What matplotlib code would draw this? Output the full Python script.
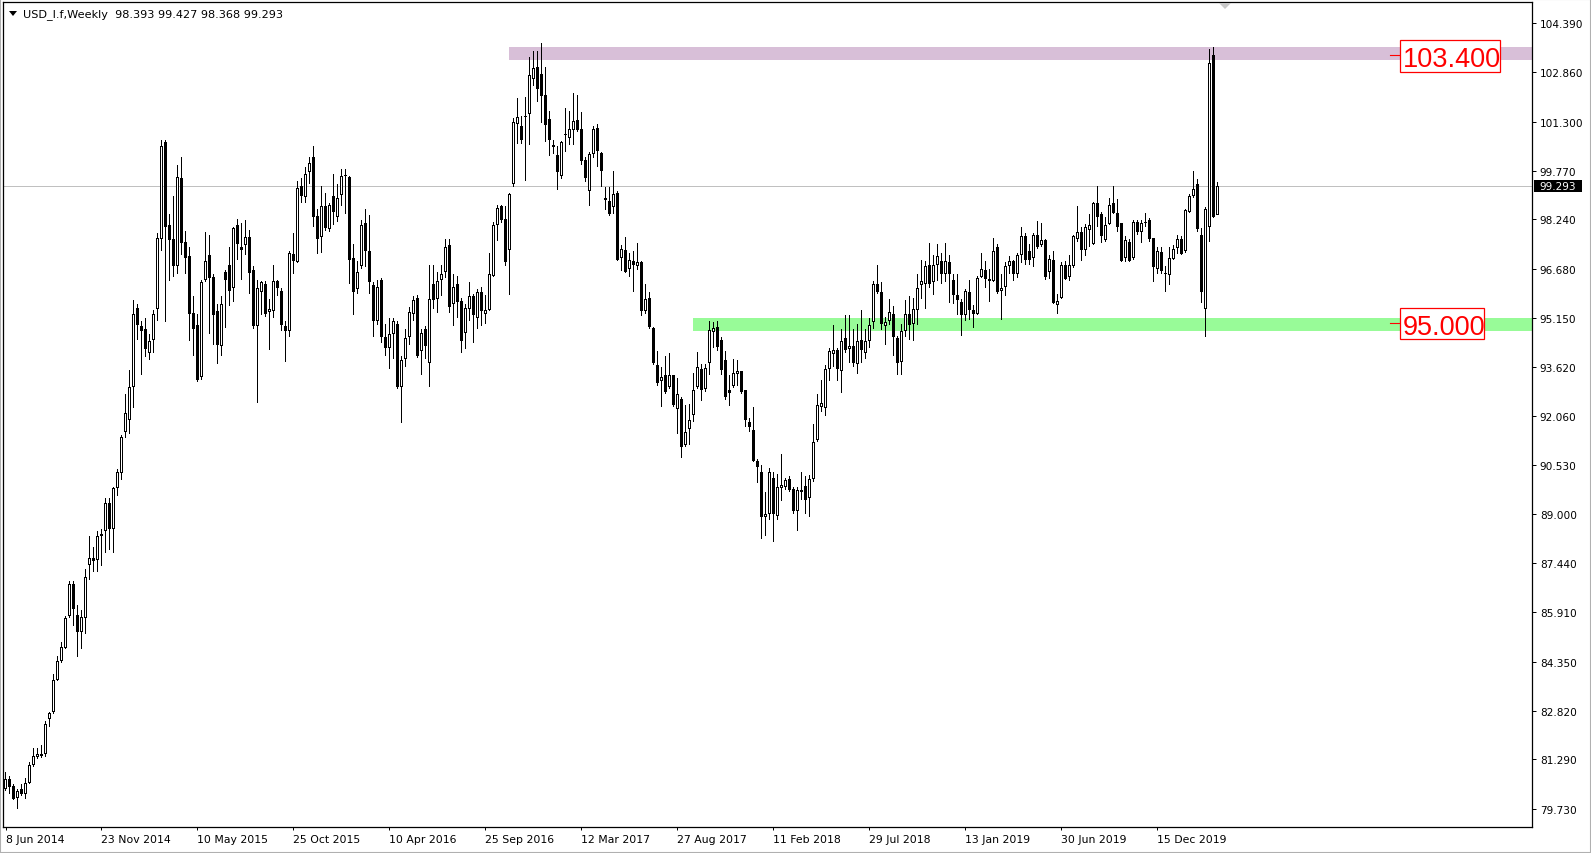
import matplotlib
matplotlib.use("Agg")
import matplotlib.pyplot as plt
from matplotlib.patches import Rectangle, Polygon
import numpy as np

# weekly candles, USD_I.f, starting 8 Jun 2014
opens = [
    80.37, 80.68, 80.45, 80.08, 80.37, 80.20, 80.56, 81.11, 81.36, 81.45,
    81.45, 82.56, 82.77, 83.79, 84.36, 84.79, 85.78, 86.79, 85.81, 85.30,
    85.73, 87.39, 87.61, 87.56, 88.30, 88.47, 89.32, 88.52, 89.80, 90.27,
    91.58, 91.94, 92.97, 95.45, 94.89, 94.80, 94.06, 94.46, 95.43, 97.63,
    100.66, 98.05, 97.63, 96.77, 99.54, 97.54, 97.08, 95.31, 94.92, 93.29,
    96.34, 97.11, 96.43, 95.37, 94.25, 96.60, 96.80, 96.09, 98.05, 97.37,
    97.42, 97.68, 96.65, 94.89, 95.95, 96.21, 95.32, 95.35, 96.29, 96.00,
    94.89, 94.72, 97.16, 96.89, 99.30, 98.95, 99.73, 100.19, 98.34, 97.68,
    98.65, 97.93, 98.96, 98.31, 98.99, 99.59, 99.56, 97.03, 96.05, 96.77,
    98.14, 97.25, 96.17, 95.06, 96.34, 94.55, 94.20, 94.63, 94.97, 92.97,
    93.86, 94.55, 95.26, 95.78, 94.12, 94.80, 93.72, 96.22, 95.74, 96.34,
    96.60, 97.42, 95.57, 96.22, 95.69, 94.67, 95.43, 95.83, 95.14, 95.95,
    95.28, 95.40, 96.46, 98.05, 98.65, 98.26, 97.28, 99.34, 101.25, 101.17,
    101.44, 101.56, 102.64, 103.02, 102.80, 102.16, 101.39, 100.56, 100.25, 99.60,
    100.88, 100.79, 101.05, 101.36, 101.08, 100.11, 99.13, 100.28, 101.10, 100.33,
    98.90, 98.82, 98.62, 99.08, 97.03, 97.28, 96.68, 96.94, 96.77, 96.89,
    95.35, 95.78, 94.84, 93.66, 93.18, 93.35, 92.97, 93.35, 92.29, 92.61,
    91.17, 91.67, 92.11, 92.97, 93.55, 92.92, 93.72, 94.71, 94.85, 94.46,
    93.83, 92.80, 93.00, 93.38, 93.47, 92.87, 91.89, 91.63, 90.64, 90.30,
    88.90, 88.98, 90.13, 88.93, 89.80, 89.84, 90.09, 89.79, 89.07, 89.67,
    89.87, 89.49, 90.09, 91.32, 92.35, 92.32, 93.55, 94.00, 94.15, 93.47,
    94.51, 94.17, 94.25, 93.69, 94.46, 94.06, 94.41, 95.01, 96.22, 95.97,
    94.89, 95.06, 95.26, 94.51, 93.77, 94.75, 95.26, 94.97, 95.40, 96.17,
    96.22, 96.80, 96.26, 96.80, 96.94, 96.51, 96.89, 96.34, 95.88, 95.66,
    95.23, 95.95, 95.40, 95.28, 96.43, 96.65, 96.31, 96.29, 97.37, 95.99,
    96.12, 96.77, 96.94, 96.51, 97.11, 97.71, 97.25, 97.03, 97.76, 97.42,
    97.59, 96.60, 96.98, 95.54, 95.78, 96.80, 96.43, 96.77, 97.63, 97.83,
    97.28, 97.90, 97.46, 98.74, 98.40, 97.59, 98.11, 98.74, 98.43, 98.14,
    97.03, 97.54, 97.03, 98.17, 97.83, 98.12, 98.22, 97.66, 96.68, 97.23,
    96.55, 96.48, 97.00, 97.33, 97.63, 97.25, 98.48, 98.96, 99.34, 97.76,
    95.43, 98.00, 103.40, 98.393,
]
highs = [
    80.88, 80.76, 80.50, 80.35, 80.51, 80.71, 81.19, 81.65, 81.65, 81.74,
    82.48, 82.77, 83.98, 84.53, 84.96, 85.78, 86.88, 86.88, 86.12, 85.98,
    87.27, 88.30, 87.95, 88.47, 88.52, 89.49, 89.49, 89.84, 90.40, 91.46,
    92.75, 93.52, 95.71, 95.57, 95.06, 95.14, 94.63, 95.40, 97.80, 100.74,
    100.74, 98.40, 98.96, 99.94, 100.19, 97.88, 97.37, 95.83, 95.26, 96.34,
    97.83, 97.76, 96.51, 95.57, 95.83, 96.65, 97.37, 98.00, 98.26, 98.14,
    98.23, 97.92, 96.77, 96.34, 96.29, 96.29, 95.74, 96.80, 96.34, 96.09,
    95.06, 97.25, 97.80, 99.46, 99.54, 99.90, 100.19, 100.54, 98.57, 99.29,
    99.08, 98.74, 99.68, 99.34, 99.81, 99.82, 99.59, 97.46, 96.94, 98.23,
    98.57, 98.38, 96.26, 96.34, 96.39, 94.97, 95.14, 95.14, 95.06, 93.95,
    94.80, 95.49, 95.83, 95.86, 94.80, 94.89, 96.80, 96.82, 96.60, 96.82,
    97.63, 97.63, 96.51, 96.46, 95.78, 95.57, 96.26, 95.91, 96.05, 96.12,
    95.86, 97.20, 98.17, 98.70, 98.69, 98.65, 99.08, 101.43, 102.04, 101.48,
    102.08, 103.33, 103.53, 103.53, 103.79, 103.02, 101.65, 100.74, 100.54, 100.71,
    101.74, 101.65, 102.21, 102.16, 101.60, 100.19, 100.37, 101.17, 101.22, 100.37,
    99.25, 99.25, 99.75, 99.13, 97.42, 97.68, 97.20, 97.25, 97.49, 96.94,
    96.21, 95.95, 94.85, 94.12, 93.60, 93.95, 94.03, 93.35, 93.26, 92.66,
    92.41, 92.44, 93.43, 94.07, 93.69, 93.69, 95.06, 95.02, 95.06, 94.55,
    94.12, 93.35, 93.86, 93.83, 93.47, 92.87, 92.01, 92.35, 90.73, 90.52,
    89.67, 90.43, 90.30, 90.26, 90.86, 90.13, 90.18, 89.84, 89.84, 90.30,
    90.18, 90.23, 91.81, 92.75, 93.21, 93.66, 94.20, 94.92, 94.20, 94.80,
    95.23, 95.23, 94.80, 94.97, 95.40, 94.80, 95.14, 96.29, 96.82, 96.26,
    95.18, 95.74, 95.52, 94.58, 94.97, 95.71, 95.83, 95.78, 96.51, 96.98,
    96.94, 97.49, 97.11, 97.46, 97.20, 97.49, 97.11, 96.51, 96.51, 95.74,
    96.05, 96.34, 95.54, 96.46, 97.20, 96.94, 96.68, 97.66, 97.46, 96.51,
    96.91, 97.08, 96.98, 97.20, 98.00, 97.80, 97.46, 97.80, 98.19, 98.14,
    97.63, 97.11, 97.25, 95.91, 96.91, 96.94, 97.11, 97.76, 98.65, 98.00,
    98.11, 98.40, 98.79, 99.30, 98.48, 98.31, 98.91, 99.30, 98.88, 98.14,
    97.71, 97.63, 98.22, 98.22, 98.22, 98.45, 98.28, 97.66, 97.37, 97.37,
    96.77, 97.37, 97.42, 97.76, 97.71, 98.57, 99.03, 99.77, 99.51, 97.97,
    98.62, 103.58, 103.65, 99.427,
]
lows = [
    80.30, 80.20, 80.00, 79.74, 80.13, 80.03, 80.50, 81.05, 81.31, 81.33,
    81.36, 82.30, 82.70, 83.76, 84.31, 84.74, 85.73, 85.47, 84.50, 84.75,
    85.22, 86.93, 87.18, 87.18, 87.36, 87.78, 87.87, 87.78, 89.55, 90.06,
    91.38, 91.50, 92.32, 94.46, 93.35, 93.91, 93.81, 94.03, 95.06, 97.25,
    95.02, 96.29, 96.43, 96.51, 97.11, 96.51, 94.41, 93.95, 93.14, 93.21,
    96.26, 94.63, 94.29, 93.69, 93.95, 94.84, 95.52, 95.66, 96.98, 96.34,
    97.11, 95.91, 94.80, 92.49, 95.23, 95.18, 94.15, 95.14, 95.83, 94.72,
    93.77, 94.55, 96.51, 96.86, 98.74, 98.74, 99.34, 98.00, 97.15, 97.20,
    97.88, 97.83, 98.06, 98.17, 98.65, 98.40, 96.22, 95.23, 95.91, 96.68,
    96.74, 95.91, 94.55, 94.92, 94.37, 93.95, 93.55, 93.86, 92.92, 91.86,
    93.60, 94.29, 95.06, 93.89, 93.35, 93.86, 92.97, 95.43, 95.31, 95.83,
    96.39, 95.31, 94.89, 95.14, 94.03, 94.17, 95.06, 94.37, 94.80, 94.89,
    94.97, 95.37, 96.43, 97.57, 98.14, 96.77, 95.86, 99.25, 100.62, 100.62,
    99.46, 100.57, 102.42, 101.91, 101.26, 100.66, 100.23, 100.28, 99.17, 99.51,
    100.37, 100.57, 100.57, 100.97, 99.94, 99.42, 98.65, 100.16, 99.89, 99.25,
    98.52, 98.35, 98.40, 96.94, 96.63, 96.57, 96.43, 95.97, 96.65, 95.20,
    95.26, 94.80, 93.66, 93.00, 92.35, 92.75, 92.92, 92.35, 91.50, 90.74,
    91.09, 91.17, 91.89, 92.92, 92.54, 92.83, 93.35, 94.20, 94.12, 93.35,
    92.58, 92.37, 92.95, 93.00, 92.75, 91.72, 91.55, 90.61, 89.96, 88.21,
    88.30, 88.81, 88.12, 88.81, 89.41, 89.75, 89.67, 88.98, 88.47, 89.44,
    88.98, 88.90, 90.01, 91.26, 92.18, 92.06, 93.18, 93.60, 93.18, 92.80,
    94.03, 93.72, 93.60, 93.38, 93.72, 93.86, 94.20, 94.80, 95.91, 94.77,
    94.29, 94.92, 93.95, 93.35, 93.35, 94.55, 94.46, 94.41, 94.92, 95.74,
    95.43, 96.09, 95.86, 96.29, 96.22, 96.26, 95.61, 95.57, 95.23, 94.58,
    95.06, 95.09, 94.84, 95.23, 96.39, 96.09, 95.66, 96.26, 95.91, 95.09,
    95.83, 96.51, 96.29, 96.39, 96.86, 96.80, 96.80, 96.74, 97.32, 97.37,
    96.34, 96.38, 95.57, 95.28, 95.74, 96.34, 96.29, 96.72, 97.54, 96.94,
    97.08, 97.37, 97.42, 98.00, 97.49, 97.54, 98.05, 98.40, 97.83, 96.89,
    96.89, 96.89, 96.98, 97.76, 97.49, 98.00, 97.54, 96.26, 96.51, 96.51,
    95.97, 96.17, 96.98, 97.15, 97.11, 97.20, 98.43, 98.91, 97.83, 95.61,
    94.55, 97.54, 98.28, 98.368,
]
closes = [
    80.68, 80.42, 80.03, 80.30, 80.20, 80.56, 81.11, 81.40, 81.45, 81.40,
    82.39, 82.73, 83.79, 84.36, 84.82, 85.73, 86.79, 86.02, 85.27, 85.76,
    87.01, 87.61, 87.50, 88.30, 88.35, 89.32, 88.52, 89.80, 90.30, 91.41,
    92.15, 92.97, 95.26, 94.92, 94.75, 94.17, 94.41, 95.26, 97.66, 100.54,
    98.00, 97.59, 96.77, 99.56, 97.49, 97.03, 95.28, 94.80, 93.21, 96.26,
    96.94, 96.39, 95.23, 94.29, 95.57, 96.34, 95.99, 97.97, 97.46, 97.28,
    97.68, 96.57, 94.89, 96.09, 96.26, 95.28, 95.44, 96.29, 96.09, 94.92,
    94.72, 97.20, 96.94, 99.22, 98.96, 99.68, 100.02, 98.31, 97.63, 98.65,
    97.97, 98.69, 98.48, 98.91, 99.59, 99.60, 96.98, 95.97, 96.60, 98.05,
    97.25, 96.26, 95.06, 96.12, 94.55, 94.20, 94.63, 95.06, 92.97, 93.81,
    94.51, 95.32, 95.71, 93.95, 94.67, 94.25, 95.74, 95.71, 96.29, 96.51,
    97.37, 95.49, 96.12, 95.66, 94.41, 95.45, 95.83, 95.23, 95.97, 95.35,
    95.40, 96.51, 98.05, 98.60, 98.22, 96.91, 99.03, 101.31, 101.44, 100.74,
    101.48, 102.76, 102.98, 102.34, 102.11, 101.19, 100.74, 100.50, 99.72, 100.67,
    100.91, 101.08, 101.34, 101.05, 100.06, 99.54, 100.28, 101.08, 100.40, 99.77,
    98.86, 98.40, 99.03, 96.98, 97.32, 96.60, 96.98, 96.80, 96.91, 95.37,
    95.74, 94.85, 93.72, 93.09, 93.30, 92.83, 93.35, 92.41, 92.75, 91.09,
    91.58, 91.93, 92.87, 93.60, 92.88, 93.57, 94.77, 94.84, 94.24, 93.52,
    92.66, 92.87, 93.43, 93.47, 92.83, 91.94, 91.72, 90.66, 90.47, 88.90,
    88.98, 90.30, 88.98, 89.84, 89.89, 90.06, 89.75, 89.07, 89.75, 89.75,
    89.44, 90.09, 91.26, 92.40, 92.49, 93.55, 94.12, 94.15, 93.55, 94.41,
    94.15, 94.25, 93.72, 94.42, 94.15, 94.41, 94.92, 96.22, 95.95, 94.97,
    95.01, 95.32, 94.55, 93.72, 94.75, 95.26, 94.92, 95.43, 96.09, 96.29,
    96.77, 96.22, 96.82, 97.08, 96.51, 96.94, 96.51, 95.88, 95.71, 95.23,
    95.99, 95.40, 95.26, 96.39, 96.69, 96.37, 96.37, 97.25, 95.95, 96.09,
    96.77, 96.94, 96.51, 97.11, 97.71, 96.98, 96.98, 97.76, 97.37, 97.59,
    96.43, 96.99, 95.61, 95.69, 96.80, 96.38, 96.80, 97.71, 97.83, 97.28,
    98.00, 98.05, 98.74, 98.31, 97.71, 98.05, 98.69, 98.45, 98.00, 96.94,
    97.59, 96.94, 98.17, 97.83, 98.14, 98.17, 97.63, 96.74, 97.25, 96.63,
    96.52, 97.03, 97.32, 97.63, 97.16, 98.52, 98.96, 99.20, 97.93, 95.95,
    98.57, 103.14, 98.31, 99.293,
]

date_labels = ['8 Jun 2014', '23 Nov 2014', '10 May 2015', '25 Oct 2015', '10 Apr 2016',
               '25 Sep 2016', '12 Mar 2017', '27 Aug 2017', '11 Feb 2018', '29 Jul 2018',
               '13 Jan 2019', '30 Jun 2019', '15 Dec 2019']
price_ticks = [104.390, 102.860, 101.300, 99.770, 98.240, 96.680, 95.150, 93.620,
               92.060, 90.530, 89.000, 87.440, 85.910, 84.350, 82.820, 81.290, 79.730]
last_price = 99.293
resistance = 103.400
support = 95.000
title = 'USD_I.f,Weekly  98.393 99.427 98.368 99.293'

W, H = 1591, 854
def px(x, y):
    return (x / W, 1 - y / H)

fig = plt.figure(figsize=(W / 100, H / 100), dpi=100)
fig.patch.set_facecolor('white')
ax = fig.add_axes([3 / W, 26 / H, 1529 / W, 825 / H])
ymin, ymax = 79.163, 105.065
ax.set_xlim(-0.625, 381.625)   # 4 px per weekly bar
ax.set_ylim(ymin, ymax)
one_px = (ymax - ymin) / 825

o = np.array(opens); h = np.array(highs); l = np.array(lows); c = np.array(closes)
x = np.arange(len(o))
up = c >= o

# zones
ax.add_patch(Rectangle((125.875, 103.24), 400, 0.42, facecolor='#d8bfd8', edgecolor='none', zorder=0))
ax.add_patch(Rectangle((171.875, 94.73), 400, 0.41, facecolor='#98fb98', edgecolor='none', zorder=0))
ax.axhline(last_price, color='#c0c0c0', lw=0.72, zorder=1)

# candles: 1 px wick, 3 px body, 1 px hollow inside for up bars
bot = np.minimum(o, c)
hgt = np.abs(c - o)
ax.bar(x, h - l, bottom=l, width=0.25, color='black', lw=0, antialiased=False, zorder=2)
ax.bar(x, np.maximum(hgt, one_px), bottom=bot, width=0.75, color='black', lw=0,
       antialiased=False, zorder=3)
inner = up & (hgt > 2.5 * one_px)
ax.bar(x[inner], hgt[inner] - 2 * one_px, bottom=bot[inner] + one_px, width=0.25,
       color='white', lw=0, antialiased=False, zorder=4)

# red price labels
for lvl, txt, w in [(resistance, '103.400', 25), (support, '95.000', 21)]:
    ax.plot([346.1, 348.6], [lvl, lvl], color='red', lw=0.8, zorder=5)
    ax.add_patch(Rectangle((348.6, lvl - 0.53), w, 1.0, facecolor='white',
                           edgecolor='red', lw=0.9, zorder=5))
    ax.text(349.3, lvl - 0.03, txt, color='red', fontsize=19.5, va='center_baseline', ha='left',
            family=['Liberation Sans', 'DejaVu Sans'], zorder=6)

# axes styling
for s in ax.spines.values():
    s.set_linewidth(0.9)
    s.set_color('black')
ax.yaxis.tick_right()
ax.set_yticks(price_ticks)
ax.set_yticklabels(['%.3f' % v for v in price_ticks])
ax.tick_params(axis='y', direction='out', length=3, width=0.72, pad=2.6, labelsize=7.6)
ax.set_xticks(np.arange(len(date_labels)) * 24)
ax.set_xticklabels(date_labels)
for t in ax.get_xticklabels():
    t.set_ha('left')
ax.tick_params(axis='x', direction='out', length=2.5, width=0.72, pad=2.5, labelsize=7.8)

# current price tag
ax.add_patch(Rectangle((1.001, last_price - 0.195), 0.032, 0.39, transform=ax.get_yaxis_transform(),
                       facecolor='black', edgecolor='none', clip_on=False, zorder=5))
ax.text(1.0048, last_price, '%.3f' % last_price, transform=ax.get_yaxis_transform(),
        color='white', fontsize=7.6, va='center', ha='left', clip_on=False, zorder=6)

# header
fig.text(23 / W, 1 - 15 / H, title, fontsize=8.1, va='center', ha='left')
fig.add_artist(Polygon([px(9, 12), px(17, 12), px(13, 17)], closed=True,
                       transform=fig.transFigure, facecolor='black', edgecolor='none'))
fig.add_artist(Polygon([px(1219, 4), px(1231, 4), px(1225, 10)], closed=True,
                       transform=fig.transFigure, facecolor='#c8c8c8', edgecolor='none'))
fig.add_artist(Rectangle((0, 0), 1, 1, transform=fig.transFigure, fill=False,
                         edgecolor='#b0b0b0', lw=1.5))

fig.savefig('out.png', dpi=100)
